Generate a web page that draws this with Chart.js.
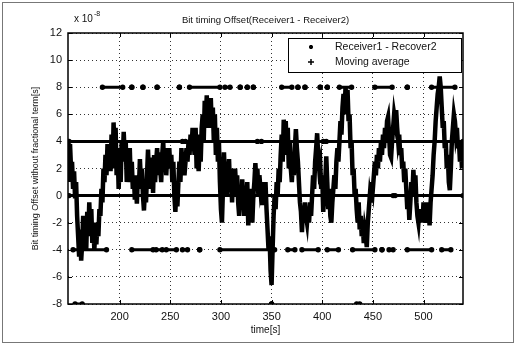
<!DOCTYPE html>
<html>
<head>
<meta charset="utf-8">
<script src="https://cdn.jsdelivr.net/npm/chart.js@4.4.0/dist/chart.umd.min.js"></script>
<style>
  html, body { margin: 0; padding: 0; background: #fff; }
  canvas { display: block; }
</style>
</head>
<body>
<canvas id="offsetChart" width="515" height="345"></canvas>
<script>
const titleText = 'Bit timing Offset(Receiver1 - Receiver2)';
const xLabel = 'time[s]';
const yLabel = 'Bit timing Offset without fractional term[s]';
const seriesNames = ['Receiver1 - Recover2', 'Moving average'];

const xTicks = [200, 250, 300, 350, 400, 450, 500];
const yTicks = [-8, -6, -4, -2, 0, 2, 4, 6, 8, 10, 12];

// moving average, one value per second starting at t = 149 s (units of 1e-8 s)
const maStart = 149;
const maValues = [
  3.5, 1.0, 3.8, 2.0,
  2.5, 0.5, 1.8, -0.2, 1.0, -1.5,
  -3.0, -4.5, -2.5, -4.8, -3.5,
  -1.5, -3.8, -2.0, -4.0, -1.2, -3.0, -0.5, -2.5, -1.0, -3.5,
  -2.0, -4.0, -2.5, -3.6, -2.0, -3.0, -1.0,
  -1.5, 0.5, -0.5, 2.0, 1.0,
  3.0, 1.5, 3.8, 2.0, 3.5, 1.8,
  4.5, 2.0, 5.4, 3.0, 5.0, 1.5, 3.5,
  0.5, 2.5, 1.0,
  4.0, 2.5, 4.7, 3.0, 4.0, 1.0,
  3.0, 1.5, 3.5, 1.0, 2.5, 0.5, 1.5,
  -0.3, 1.0, -0.6, 1.5, 0.5,
  2.7, 1.0, 2.0,
  0.0, -1.1, 0.5, -0.5, 1.5,
  3.4, 1.5, 2.8, 0.5,
  2.5, 0.2, 3.0, 1.0, 2.5,
  3.5, 1.5, 3.2, 2.0,
  1.0, 3.0, 4.0, 2.0, 3.5, 1.5, 3.0,
  2.0, 3.5, 2.0, 3.0, 1.0, 2.5,
  0.0, -1.2, 0.5, -0.8, 1.0,
  2.5, 1.0, 3.5, 2.0, 3.0, 1.5, 2.5, 3.5,
  2.5, 4.0, 3.0, 4.5, 3.5, 5.0, 4.0,
  3.0, 5.0, 2.0, 4.5, 1.8, 4.0, 2.5, 5.0,
  6.0, 4.0, 7.0, 5.5, 7.4, 5.0, 7.0, 6.0,
  7.2, 5.0, 6.5, 4.0, 6.0, 3.0, 5.0, 2.5, 4.0,
  1.0, -1.0, -2.0, 0.5,
  3.2, 1.0, 2.5, 0.0, 1.5,
  2.7, 0.5, 2.0, -0.5, 1.5, 0.0, 2.0, 0.5, 1.5, -0.5,
  -1.5, 0.5, -1.0, 1.2, 0.0, -1.5, 0.5,
  -1.0, 1.0, -2.2, 0.0, -1.5, 0.5, -2.0, 0.0, 1.0,
  2.4, 1.0, 2.0, 0.0, 1.5, 0.5, 1.0,
  -0.7, 0.5, -0.5, 1.0, -1.0,
  -2.5, -4.0, -3.0, -5.5, -6.6, -4.0,
  -1.5, 0.0, -1.0, 1.0, 0.0, 2.0, 1.0,
  3.0, 4.5, 2.5, 5.6, 4.0, 5.5, 3.0, 5.0, 2.0, 4.0, 2.0,
  1.0, 2.5, 1.5, 3.5, 4.9, 3.5, 2.5,
  1.0, -0.5, -1.2, -2.7, -1.0, -2.0, -0.5, -1.5, -2.0,
  -1.0, -2.0, -0.5, -1.5, 0.0,
  1.5, 0.5, 2.5, 3.5, 4.6, 3.0, 2.0,
  2.4, 0.5, 1.5, -1.2, 0.0, 1.0, 2.9, 1.0,
  -1.0, 0.5, -1.5, -2.0,
  -0.5, 0.5, 1.5, 0.5, 2.5, 3.5, 2.5,
  4.0, 5.5, 4.5, 6.5, 7.5, 6.0, 8.0,
  7.0, 7.8, 5.5, 6.0, 3.5, 4.0,
  1.5, 2.0, 0.0, 0.5, -1.0, -2.0,
  -0.5, -2.5, -1.5, -3.0, -2.0, -3.5, -2.5, -3.0, -3.8, -2.0,
  -1.0, 0.0, -0.5, 1.0, 0.5, 1.5, 2.5, 1.5, 3.0, 2.0, 3.5, 2.5, 4.0,
  3.0, 4.5, 3.5, 5.0, 4.0, 5.5, 5.8, 4.5, 3.0, 2.8,
  4.0, 5.0, 6.0, 5.5, 6.3, 5.0,
  4.0, 4.5, 3.0, 3.5, 2.0, 2.5, 1.0, 2.0, 0.5, -1.0, 0.0, -1.8, -0.5, 1.0,
  0.0, 1.9, 0.5, 1.5, -0.5, -1.5, -2.0, -1.0, -1.8,
  -1.0, -2.0, -0.5, -1.5, -2.0, -0.5, -1.8, -1.0, -2.2, -0.5, 0.5,
  1.5, 3.0, 4.0, 5.5, 6.5, 7.5, 8.0, 8.8, 8.0,
  6.5, 5.0, 5.5, 3.5, 4.0, 2.0, 3.0, 1.0, 0.4,
  2.0, 4.0, 5.0, 6.0, 5.5, 4.5, 5.0,
  3.5, 4.0, 2.5, 3.5, 2.0, 4.0
];

// raw offsets only take the levels 8, 4, 0, -4, -8; runs of samples as [from, to] seconds
const raw8 = [[183, 203], [212, 212], [223, 223], [237, 237], [259, 259], [269, 299], [304, 309],
  [319, 319], [326, 326], [332, 332], [360, 370], [376, 376], [383, 383], [398, 398], [405, 405],
  [417, 429], [452, 469], [484, 484], [508, 531]];
const raw4 = [[150, 262], [265, 336], [340, 401], [404, 539]];
const raw0 = [[150, 330], [332, 470], [472, 539]];
const rawM4 = [[154, 187], [212, 233], [236, 242], [246, 256], [262, 267], [279, 279], [299, 353],
  [366, 373], [380, 396], [405, 416], [430, 452], [459, 459], [466, 470], [484, 508], [518, 527]];
const rawM8 = [[156, 163], [350, 350], [434, 437]];

const rawPoints = [];
[[8, raw8], [4, raw4], [0, raw0], [-4, rawM4], [-8, rawM8]].forEach(([level, runs]) => {
  runs.forEach(([a, b]) => {
    rawPoints.push({ x: a, y: level }, { x: b, y: level }, { x: b, y: null });
  });
});

const maPoints = maValues.map((v, i) => ({ x: maStart + i, y: v }));

const FONT = '"Liberation Sans", Arial, Helvetica, sans-serif';

const matlabFrame = {
  id: 'matlabFrame',
  beforeDraw(chart) {
    const c = chart.ctx;
    c.save();
    c.fillStyle = '#fff';
    c.fillRect(0, 0, chart.width, chart.height);
    c.strokeStyle = '#777';
    c.lineWidth = 1;
    c.strokeRect(2.5, 2.5, chart.width - 4, chart.height - 5);
    c.restore();
  },
  afterDraw(chart) {
    const c = chart.ctx;
    const a = chart.chartArea;
    const xs = chart.scales.x, ys = chart.scales.y;
    c.save();
    c.strokeStyle = '#000';
    c.lineWidth = 1.5;
    c.strokeRect(a.left, a.top, a.right - a.left, a.bottom - a.top);

    // inward tick marks
    c.lineWidth = 1;
    c.beginPath();
    xTicks.forEach(v => {
      const px = Math.round(xs.getPixelForValue(v)) + 0.5;
      c.moveTo(px, a.bottom); c.lineTo(px, a.bottom - 4);
      c.moveTo(px, a.top); c.lineTo(px, a.top + 4);
    });
    yTicks.forEach(v => {
      const py = Math.round(ys.getPixelForValue(v)) + 0.5;
      c.moveTo(a.left, py); c.lineTo(a.left + 4, py);
      c.moveTo(a.right, py); c.lineTo(a.right - 4, py);
    });
    c.stroke();

    // title and exponent
    c.fillStyle = '#111';
    c.font = '9.5px ' + FONT;
    c.textAlign = 'center';
    c.textBaseline = 'middle';
    c.fillText(titleText, (a.left + a.right) / 2, 20);
    c.textAlign = 'left';
    c.font = '10px ' + FONT;
    c.fillText('x 10', a.left + 6, 19);
    c.font = '7px ' + FONT;
    c.fillText('-8', a.left + 26, 14);

    // legend box
    const bx = a.right - 175, by = a.top + 5, bw = 173, bh = 34;
    c.fillStyle = '#fff';
    c.fillRect(bx, by, bw, bh);
    c.strokeStyle = '#000';
    c.lineWidth = 1;
    c.strokeRect(bx + 0.5, by + 0.5, bw, bh);
    const mx = bx + 23;
    const rows = [by + 9, by + 24];
    // '*' marker
    c.beginPath();
    for (let k = 0; k < 4; k++) {
      const ang = k * Math.PI / 4;
      c.moveTo(mx - 2 * Math.cos(ang), rows[0] - 2 * Math.sin(ang));
      c.lineTo(mx + 2 * Math.cos(ang), rows[0] + 2 * Math.sin(ang));
    }
    // '+' marker
    c.moveTo(mx - 3, rows[1]); c.lineTo(mx + 3, rows[1]);
    c.moveTo(mx, rows[1] - 3); c.lineTo(mx, rows[1] + 3);
    c.lineWidth = 1.5;
    c.stroke();
    c.fillStyle = '#111';
    c.font = '10.5px ' + FONT;
    c.fillText(seriesNames[0], bx + 47, rows[0]);
    c.fillText(seriesNames[1], bx + 47, rows[1]);
    c.restore();
  }
};

new Chart(document.getElementById('offsetChart'), {
  type: 'line',
  data: {
    datasets: [
      {
        label: seriesNames[0],
        data: rawPoints,
        borderColor: '#000',
        backgroundColor: '#000',
        borderWidth: 3,
        pointRadius: 1.2,
        pointStyle: 'circle',
        spanGaps: false,
        tension: 0
      },
      {
        label: seriesNames[1],
        data: maPoints,
        borderColor: '#000',
        backgroundColor: '#000',
        borderWidth: 4.5,
        pointRadius: 0,
        tension: 0
      }
    ]
  },
  options: {
    responsive: false,
    animation: false,
    devicePixelRatio: 1,
    layout: { padding: { left: 30, top: 33, right: 52, bottom: 9 } },
    plugins: {
      legend: { display: false },
      title: { display: false },
      tooltip: { enabled: false }
    },
    scales: {
      x: {
        type: 'linear',
        min: 149,
        max: 539,
        afterBuildTicks: axis => { axis.ticks = xTicks.map(v => ({ value: v })); },
        afterFit: axis => { axis.height = 32; },
        grid: { color: '#333', lineWidth: 1, drawTicks: false },
        border: { display: false, dash: [1, 3] },
        ticks: { padding: 6, color: '#111', font: { family: FONT, size: 11 } },
        title: { display: true, text: xLabel, color: '#111', font: { family: FONT, size: 10 }, padding: { top: 0, bottom: 0 } }
      },
      y: {
        min: -8,
        max: 12,
        afterBuildTicks: axis => { axis.ticks = yTicks.map(v => ({ value: v })); },
        afterFit: axis => { axis.width = 38; },
        grid: { color: '#333', lineWidth: 1, drawTicks: false },
        border: { display: false, dash: [1, 3] },
        ticks: { padding: 6, color: '#111', font: { family: FONT, size: 11 } },
        title: { display: true, text: yLabel, color: '#111', font: { family: FONT, size: 9 }, padding: 0 }
      }
    }
  },
  plugins: [matlabFrame]
});
</script>
</body>
</html>
